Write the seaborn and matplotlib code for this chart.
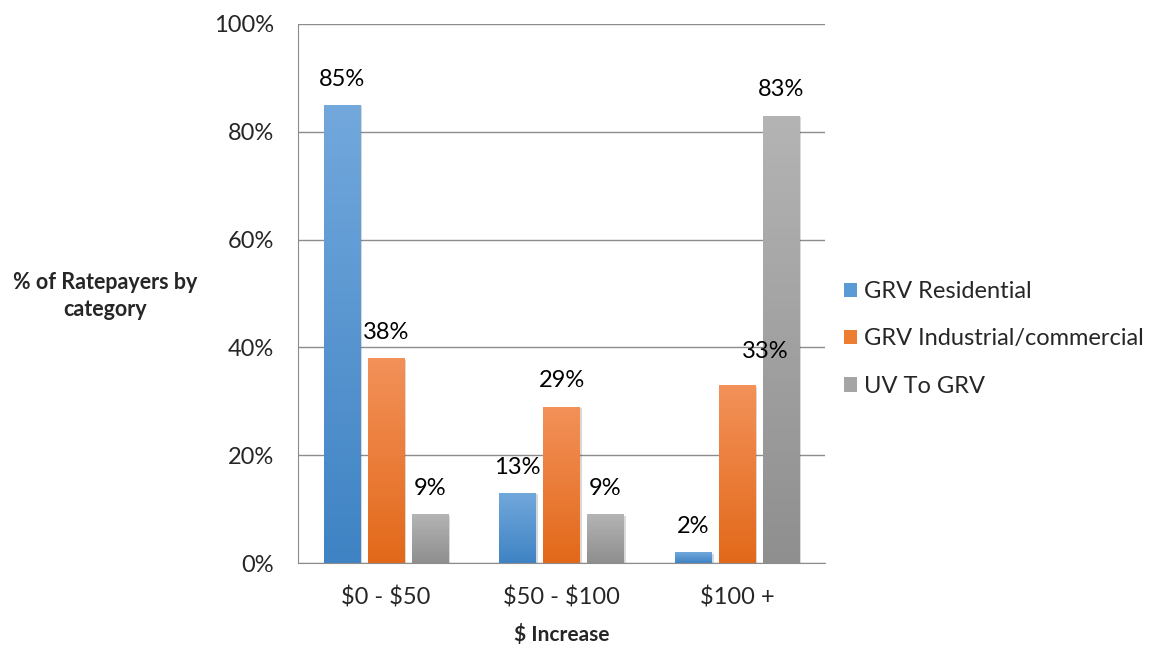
import numpy as np
import pandas as pd
import matplotlib
matplotlib.use("Agg")
import matplotlib.pyplot as plt
import matplotlib.patheffects as pe
from matplotlib.colors import LinearSegmentedColormap
import seaborn as sns

# data
increase_bands = ["$0 - $50", "$50 - $100", "$100 +"]
groups = ["GRV Residential", "GRV Industrial/commercial", "UV To GRV"]
residential = [85, 13, 2]
industrial = [38, 29, 33]
uv_to_grv = [9, 9, 83]
y_ticks = [0, 20, 40, 60, 80, 100]

colors = ["#5b9bd5", "#ed7d31", "#a5a5a5"]
grad_top = ["#72a8dc", "#f39159", "#b4b4b4"]
grad_bot = ["#3f83c4", "#e2691a", "#8f8f8f"]

df = pd.DataFrame({
    "band": increase_bands * 3,
    "group": np.repeat(groups, 3),
    "pct": residential + industrial + uv_to_grv,
})

sns.set_style("white")
plt.rcParams["font.family"] = ["Lato", "DejaVu Sans"]
plt.rcParams["text.parse_math"] = False

fig = plt.figure(figsize=(11.58, 6.46), dpi=100)
ax = fig.add_axes([298 / 1158, 83 / 646, 527 / 1158, 539 / 646])

sns.barplot(data=df, x="band", y="pct", hue="group", hue_order=groups,
            palette=colors, width=0.75, gap=0.17, ax=ax, legend=True,
            linewidth=0, saturation=1)

ax.set_ylim(0, 100)
ax.set_xlim(-0.5, 2.5)
ax.set_yticks(y_ticks)
ax.set_yticklabels([f"{t}%" for t in y_ticks])
ax.yaxis.grid(True, color="#8c8c8c", linewidth=1)
ax.set_axisbelow(True)
for s in ["top", "right"]:
    ax.spines[s].set_visible(False)
ax.spines["left"].set_color("#8c8c8c")
ax.spines["bottom"].set_color("#8c8c8c")
ax.tick_params(axis="y", length=6.5, color="#8c8c8c", pad=11, labelsize=17)
ax.tick_params(axis="x", length=0, pad=17, labelsize=17)

ax.set_xlabel("$ Increase", fontsize=15, fontweight="bold", labelpad=11)
ax.set_ylabel("")
fig.text(105 / 1158, 1 - 296 / 646, "% of Ratepayers by\ncategory", ha="center",
         va="center", fontsize=15.5, fontweight="bold", linespacing=1.35)

# gradient fill + shadow, labels
nudge = {(1, 2): (20, 6)}
for i, cont in enumerate(ax.containers):
    cmap = LinearSegmentedColormap.from_list(f"g{i}", [grad_bot[i], grad_top[i]])
    for j, bar in enumerate(cont):
        x0, y0 = bar.get_x(), bar.get_y()
        w, h = bar.get_width(), bar.get_height()
        bar.set_path_effects([pe.SimplePatchShadow(offset=(1.5, -1), alpha=0.18),
                              pe.Normal()])
        img = ax.imshow(np.linspace(0, 1, 100).reshape(-1, 1), cmap=cmap,
                        origin="lower", aspect="auto",
                        extent=[x0, x0 + w, y0, y0 + h], zorder=bar.get_zorder() + 0.1)
        img.set_clip_path(bar)
        dx, dy = nudge.get((i, j), (0, 0))
        ax.annotate(f"{h:.0f}%", (x0 + w / 2, y0 + h), xytext=(dx, 18.5 + dy),
                    textcoords="offset points", ha="center", va="center",
                    fontsize=17, color="#000000")
ax.set_xlim(-0.5, 2.5)
ax.set_ylim(0, 100)

handles, labels = ax.get_legend_handles_labels()
ax.legend_.remove()
fig.legend(handles, labels, loc="center left", bbox_to_anchor=(823 / 1158, 1 - 339 / 646),
           frameon=False, fontsize=17, handlelength=0.55, handleheight=0.55,
           handletextpad=0.3, labelspacing=1.12)

fig.savefig("out.png", dpi=100)
